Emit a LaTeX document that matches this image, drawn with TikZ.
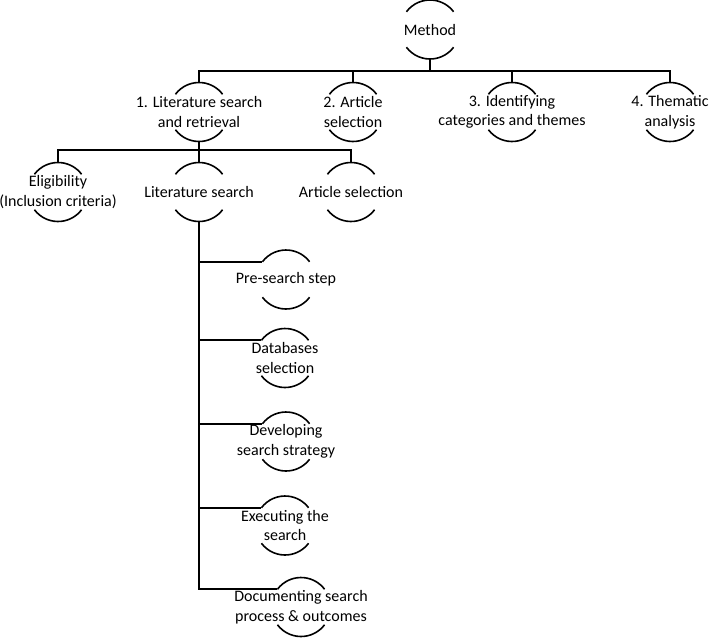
\documentclass[tikz,border=0pt]{standalone}
\usepackage{fontspec}
\setmainfont{Carlito}
\usepackage{tikz}
\usetikzlibrary{positioning,calc}
\newcommand{\arcrad}{29.5pt}

\begin{document}
\begin{tikzpicture}[x=1pt, y=-1pt,
    every node/.style={font=\fontsize{16}{19.5}\selectfont, align=center},
    hub/.style={inner sep=0pt, minimum height=59pt},
    conn/.style={line width=1.6pt, color=black},
    arcln/.style={line width=1.6pt, color=black}
  ]
  \useasboundingbox (0,0) rectangle (709,638);

  % ---- top and first level ----
  \node[hub] (method)   at (430,29.5) {Method};
  \node[hub] (search)   at (199,112)  {1. Literature search\\and retrieval};
  \node[hub] (select)   at (353,112)  {2. Article\\selection};
  \node[hub] (themes)   at (512,112)  {3. Identifying\\categories and themes};
  \node[hub] (thematic) at (670,112)  {4. Thematic\\analysis};

  % ---- second level ----
  \node[hub] (elig)      at (58,192)  {Eligibility\\(Inclusion criteria)};
  \node[hub] (litsearch) at (199,192) {Literature search};
  \node[hub] (artsel)    at (351,192) {Article selection};

  % ---- search steps ----
  \node[hub] (presearch) at (286,279.5) {Pre-search step};
  \node[hub] (dbsel)     at (285,358)   {Databases\\selection};
  \node[hub] (strategy)  at (286,441.5) {Developing\\search strategy};
  \node[hub] (execute)   at (285,525.5) {Executing the\\search};
  \node[hub] (document)  at (301,607)   {Documenting search\\process \& outcomes};

  % ---- arcs above and below each label ----
  \foreach \n in {method,search,select,themes,thematic,elig,litsearch,artsel,
                  presearch,dbsel,strategy,execute,document}{
    \draw[arcln] ([shift={(143:\arcrad)}]\n.center) arc[start angle=143, end angle=37, radius=\arcrad];
    \draw[arcln] ([shift={(217:\arcrad)}]\n.center) arc[start angle=217, end angle=323, radius=\arcrad];
  }

  % ---- connectors ----
  \foreach \c in {search,select,themes,thematic}
    \draw[conn] (method.south) -- ++(0,12) -| (\c.north);
  \foreach \c in {elig,litsearch,artsel}
    \draw[conn] (search.south) -- ++(0,8.5) -| (\c.north);
  \foreach \c in {presearch,dbsel,strategy,execute,document}
    \draw[conn] (litsearch.south) |- ([shift={(143:\arcrad)}]\c.center);

\end{tikzpicture}
\end{document}
